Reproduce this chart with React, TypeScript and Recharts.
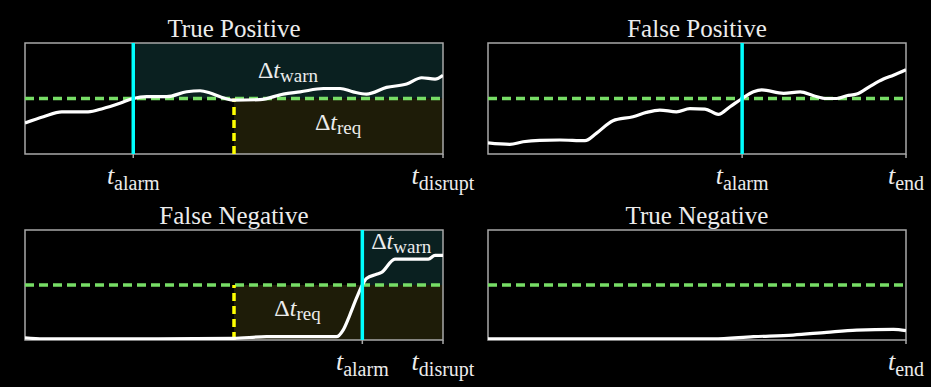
import React from 'react';
import { LineChart, Line, XAxis, YAxis, ReferenceLine, ReferenceArea, ReferenceDot } from 'recharts';

// ---------- data ----------
const THRESHOLD = 0.5;

const tpX = [0, 4.4, 8.8, 15.1, 18.7, 22.7, 25.9, 29.1, 33.9, 38.7, 41.9, 44.3, 46.7, 49.8, 56.2, 61.8, 65.8, 71.4, 75.4, 78.5, 81.7, 86.5, 91.3, 94.9, 98.1, 100];
const tpY = [0.28, 0.336, 0.38, 0.38, 0.41, 0.457, 0.5, 0.516, 0.516, 0.561, 0.57, 0.55, 0.516, 0.486, 0.49, 0.54, 0.56, 0.59, 0.59, 0.56, 0.54, 0.6, 0.63, 0.687, 0.675, 0.71];

const fpX = [0, 5.2, 8.4, 12.4, 17.2, 23.2, 25.9, 29.9, 34.7, 37.9, 41.1, 45.1, 48.3, 51.9, 55.1, 57.9, 60.8, 63.5, 65.5, 70.7, 74.7, 77.9, 81, 83.4, 85.8, 88.2, 91.4, 94.6, 97, 100];
const fpY = [0.1, 0.087, 0.11, 0.123, 0.126, 0.12, 0.186, 0.3, 0.336, 0.375, 0.396, 0.38, 0.408, 0.405, 0.357, 0.426, 0.5, 0.56, 0.577, 0.547, 0.56, 0.525, 0.5, 0.5, 0.525, 0.54, 0.61, 0.675, 0.71, 0.76];

const fnX = [0, 4.4, 25.9, 49.8, 57.8, 74.5, 76.1, 77.7, 79.3, 80.7, 81.7, 84.1, 85.3, 88.5, 96.5, 98.1, 100];
const fnY = [0.02, 0.01, 0.01, 0.015, 0.03, 0.03, 0.09, 0.227, 0.38, 0.5, 0.56, 0.597, 0.615, 0.736, 0.736, 0.77, 0.77];

const tnX = [0, 53.9, 63.5, 73, 81, 88.2, 97, 100];
const tnY = [0.01, 0.01, 0.03, 0.045, 0.07, 0.09, 0.097, 0.085];

const titles = ['True Positive', 'False Positive', 'False Negative', 'True Negative'];

const tpTicks = [25.9, 100];
const tpTickNames = ['alarm', 'disrupt'];
const fpTicks = [60.8, 100];
const fpTickNames = ['alarm', 'end'];
const fnTicks = [80.7, 100];
const fnTickNames = ['alarm', 'disrupt'];
const tnTicks = [100];
const tnTickNames = ['end'];

const tpAlarm = 25.9;
const tpReq = 50;
const fpAlarm = 60.8;
const fnAlarm = 80.7;
const fnReq = 50;

// delta labels: [x, y(baseline), subscript]
const tpDeltaLabels: [number, number, string][] = [[62.9, 0.685, 'warn'], [74.9, 0.216, 'req']];
const fnDeltaLabels: [number, number, string][] = [[90.0, 0.827, 'warn'], [65.2, 0.218, 'req']];

// ---------- styles ----------
const FONT = "'Liberation Serif', 'DejaVu Serif', 'Times New Roman', serif";
const TEXT = '#ececec';
const BORDER = '#a8a8a8';
const GREEN = '#77dd66';
const CYAN = '#00ffff';
const YELLOW = '#ffff00';
const TEAL_FILL = '#0a2020';
const OLIVE_FILL = '#1e1c08';

const textStyle = { fontFamily: FONT };

const toRows = (xs: number[], ys: number[]) => xs.map((x, i) => ({ x, y: ys[i] }));

const makeTick = (ticks: number[], names: string[]) => (props: any) => {
  const { x, y, payload } = props;
  const idx = ticks.findIndex((t) => Math.abs(t - payload.value) < 1e-6);
  const name = idx >= 0 ? names[idx] : '';
  return (
    <text x={x} y={y + 24} textAnchor="middle" fill={TEXT} style={textStyle}>
      <tspan fontStyle="italic" fontSize={26} style={textStyle}>t</tspan>
      <tspan fontSize={20} dy={6} style={textStyle}>{name}</tspan>
    </text>
  );
};

const DeltaShape = (sub: string) => (props: any) => {
  const { cx, cy } = props;
  return (
    <text x={cx} y={cy} textAnchor="middle" fill={TEXT} style={textStyle}>
      <tspan fontSize={24} style={textStyle}>Δ</tspan>
      <tspan fontSize={24} fontStyle="italic" style={textStyle}>t</tspan>
      <tspan fontSize={19} dy={4} style={textStyle}>{sub}</tspan>
    </text>
  );
};

type Shade = { x1: number; x2: number; y1: number; y2: number; fill: string };

type PanelProps = {
  left: number;
  top: number;
  width: number;
  height: number;
  margin: { top: number; right: number; bottom: number; left: number };
  xs: number[];
  ys: number[];
  ticks: number[];
  tickNames: string[];
  alarm?: number;
  req?: number;
  shades: Shade[];
  deltas: [number, number, string][];
};

function Panel(p: PanelProps) {
  const data = toRows(p.xs, p.ys);
  return (
    <div style={{ position: 'absolute', left: p.left, top: p.top }}>
      <LineChart width={p.width} height={p.height} data={data} margin={p.margin}>
        <XAxis
          type="number"
          dataKey="x"
          domain={[0, 100]}
          ticks={p.ticks}
          interval={0}
          tick={makeTick(p.ticks, p.tickNames)}
          tickLine={{ stroke: BORDER, strokeWidth: 1.5 }}
          tickSize={4}
          axisLine={false}
          height={30}
          allowDataOverflow
        />
        <YAxis type="number" domain={[0, 1]} hide allowDataOverflow />
        {p.shades.map((s, i) => (
          <ReferenceArea key={'s' + i} x1={s.x1} x2={s.x2} y1={s.y1} y2={s.y2} fill={s.fill} fillOpacity={1} stroke="none" />
        ))}
        <ReferenceArea x1={0} x2={100} y1={0} y2={1} fill="none" stroke={BORDER} strokeWidth={1.5} />
        <ReferenceLine y={THRESHOLD} stroke={GREEN} strokeWidth={3.5} strokeDasharray="9 5" />
        {p.req !== undefined && (
          <ReferenceLine
            segment={[{ x: p.req, y: 0 }, { x: p.req, y: THRESHOLD }]}
            stroke={YELLOW}
            strokeWidth={3.5}
            strokeDasharray="8 5"
          />
        )}
        <Line type="monotone" dataKey="y" stroke="#ffffff" strokeWidth={3.2} dot={false} isAnimationActive={false} />
        {p.alarm !== undefined && <ReferenceLine x={p.alarm} stroke={CYAN} strokeWidth={3.5} />}
        {p.deltas.map((d, i) => (
          <ReferenceDot key={'d' + i} x={d[0]} y={d[1]} r={0} shape={DeltaShape(d[2])} />
        ))}
      </LineChart>
    </div>
  );
}

export default function App() {
  return (
    <div style={{ position: 'absolute', left: 0, top: 0, width: 931, height: 387, background: '#000', overflow: 'hidden' }}>
      <Panel
        left={0}
        top={0}
        width={490}
        height={195}
        margin={{ top: 43, right: 47, bottom: 11, left: 25 }}
        xs={tpX}
        ys={tpY}
        ticks={tpTicks}
        tickNames={tpTickNames}
        alarm={tpAlarm}
        req={tpReq}
        shades={[
          { x1: tpAlarm, x2: 100, y1: THRESHOLD, y2: 1, fill: TEAL_FILL },
          { x1: tpReq, x2: 100, y1: 0, y2: THRESHOLD, fill: OLIVE_FILL },
        ]}
        deltas={tpDeltaLabels}
      />
      <Panel
        left={460}
        top={0}
        width={471}
        height={195}
        margin={{ top: 43, right: 25, bottom: 11, left: 28 }}
        xs={fpX}
        ys={fpY}
        ticks={fpTicks}
        tickNames={fpTickNames}
        alarm={fpAlarm}
        shades={[]}
        deltas={[]}
      />
      <Panel
        left={0}
        top={195}
        width={490}
        height={192}
        margin={{ top: 35, right: 47, bottom: 17, left: 25 }}
        xs={fnX}
        ys={fnY}
        ticks={fnTicks}
        tickNames={fnTickNames}
        alarm={fnAlarm}
        req={fnReq}
        shades={[
          { x1: fnAlarm, x2: 100, y1: THRESHOLD, y2: 1, fill: TEAL_FILL },
          { x1: fnReq, x2: 100, y1: 0, y2: THRESHOLD, fill: OLIVE_FILL },
        ]}
        deltas={fnDeltaLabels}
      />
      <Panel
        left={460}
        top={195}
        width={471}
        height={192}
        margin={{ top: 35, right: 25, bottom: 17, left: 28 }}
        xs={tnX}
        ys={tnY}
        ticks={tnTicks}
        tickNames={tnTickNames}
        shades={[]}
        deltas={[]}
      />
      <svg width={931} height={387} style={{ position: 'absolute', left: 0, top: 0, pointerEvents: 'none' }}>
        <text x={234} y={37} textAnchor="middle" fill={TEXT} style={textStyle} fontSize={25}>{titles[0]}</text>
        <text x={697} y={37} textAnchor="middle" fill={TEXT} style={textStyle} fontSize={25}>{titles[1]}</text>
        <text x={234} y={224} textAnchor="middle" fill={TEXT} style={textStyle} fontSize={25}>{titles[2]}</text>
        <text x={697} y={224} textAnchor="middle" fill={TEXT} style={textStyle} fontSize={25}>{titles[3]}</text>
      </svg>
    </div>
  );
}
